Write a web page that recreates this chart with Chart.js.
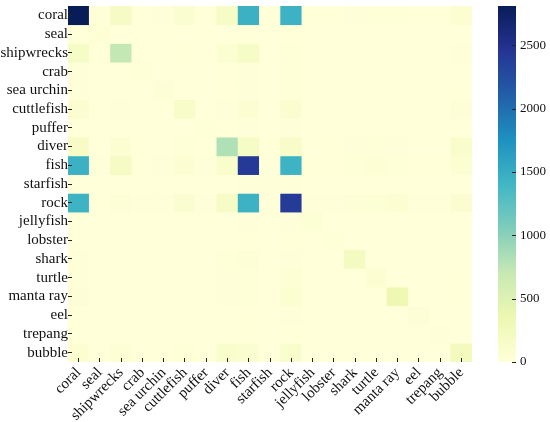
<!DOCTYPE html>
<html>
<head>
<meta charset="utf-8">
<script src="https://cdn.jsdelivr.net/npm/chart.js@4/dist/chart.umd.min.js"></script>
<style>
  body { margin: 0; background: #fff; }
</style>
</head>
<body>
<canvas id="heatmap" width="550" height="422"></canvas>
<script>
var labels = ["coral", "seal", "shipwrecks", "crab", "sea urchin", "cuttlefish", "puffer", "diver", "fish",
  "starfish", "rock", "jellyfish", "lobster", "shark", "turtle", "manta ray", "eel", "trepang", "bubble"];

// one row per true class, columns in the same order as labels
var coral      = [2810, 10, 180, 5, 10, 90, 5, 160, 1450, 5, 1440, 5, 5, 10, 20, 20, 5, 5, 60];
var seal       = [5, 40, 0, 0, 0, 0, 0, 0, 5, 0, 5, 0, 0, 0, 0, 0, 0, 0, 0];
var shipwrecks = [170, 5, 720, 0, 0, 5, 0, 70, 170, 0, 20, 0, 0, 0, 0, 0, 0, 0, 10];
var crab       = [10, 0, 0, 20, 0, 0, 0, 5, 10, 0, 20, 0, 0, 0, 0, 0, 0, 0, 0];
var seaUrchin  = [10, 0, 0, 0, 30, 0, 0, 5, 10, 0, 20, 0, 0, 0, 0, 0, 0, 0, 5];
var cuttlefish = [80, 0, 10, 0, 0, 140, 0, 10, 60, 0, 80, 0, 0, 0, 0, 0, 0, 0, 30];
var puffer     = [5, 0, 0, 0, 0, 0, 15, 5, 10, 0, 10, 0, 0, 0, 0, 0, 0, 0, 0];
var diver      = [160, 0, 60, 5, 0, 20, 5, 820, 170, 5, 150, 0, 5, 10, 20, 10, 0, 0, 110];
var fish       = [1450, 10, 180, 5, 10, 60, 10, 120, 2420, 10, 1430, 5, 5, 20, 40, 20, 5, 5, 70];
var starfish   = [5, 0, 0, 0, 0, 0, 0, 0, 10, 10, 10, 0, 0, 0, 0, 0, 0, 0, 0];
var rock       = [1430, 5, 30, 10, 10, 90, 10, 160, 1440, 10, 2400, 10, 10, 30, 50, 60, 10, 10, 80];
var jellyfish  = [5, 0, 0, 0, 0, 0, 0, 0, 10, 0, 10, 50, 0, 0, 0, 0, 0, 0, 0];
var lobster    = [5, 0, 0, 0, 0, 0, 0, 0, 5, 0, 5, 0, 20, 0, 0, 0, 0, 0, 0];
var shark      = [10, 0, 0, 0, 0, 0, 0, 20, 30, 0, 10, 0, 0, 220, 0, 0, 0, 0, 0];
var turtle     = [20, 0, 0, 0, 0, 0, 0, 10, 20, 0, 40, 0, 0, 0, 60, 0, 0, 0, 5];
var mantaRay   = [30, 0, 0, 0, 0, 0, 0, 10, 20, 0, 70, 0, 0, 0, 0, 340, 0, 0, 5];
var eel        = [5, 0, 0, 0, 0, 0, 0, 0, 5, 0, 10, 0, 0, 0, 0, 0, 30, 0, 0];
var trepang    = [5, 0, 0, 0, 0, 0, 0, 0, 5, 0, 5, 0, 0, 0, 0, 0, 0, 10, 0];
var bubble     = [60, 0, 40, 0, 0, 20, 0, 120, 90, 0, 110, 0, 0, 0, 0, 0, 0, 0, 240];

var matrix = [coral, seal, shipwrecks, crab, seaUrchin, cuttlefish, puffer, diver, fish, starfish,
  rock, jellyfish, lobster, shark, turtle, mantaRay, eel, trepang, bubble];

var colorbarTicks = [0, 500, 1000, 1500, 2000, 2500];

// YlGnBu
var ylgnbu = ["#ffffd9", "#edf8b1", "#c7e9b4", "#7fcdbb", "#41b6c4", "#1d91c0", "#225ea8", "#253494", "#081d58"];
var vmax = Math.max.apply(null, matrix.map(function(r) { return Math.max.apply(null, r); }));

function hexRgb(h) {
  return [parseInt(h.substr(1, 2), 16), parseInt(h.substr(3, 2), 16), parseInt(h.substr(5, 2), 16)];
}
function colorFor(v) {
  var t = Math.max(0, Math.min(1, v / vmax)) * (ylgnbu.length - 1);
  var i = Math.min(Math.floor(t), ylgnbu.length - 2);
  var f = t - i;
  var a = hexRgb(ylgnbu[i]), b = hexRgb(ylgnbu[i + 1]);
  return "rgb(" + [0, 1, 2].map(function(k) { return Math.round(a[k] + (b[k] - a[k]) * f); }).join(",") + ")";
}

var datasets = matrix.map(function(row, r) {
  return {
    label: labels[r],
    data: row.map(function() { return [r - 0.5, r + 0.5]; }),
    backgroundColor: row.map(colorFor),
    borderWidth: 0,
    grouped: false,
    barPercentage: 1,
    categoryPercentage: 1
  };
});

var colorbar = {
  id: "colorbar",
  afterDraw: function(chart) {
    var ctx = chart.ctx;
    var cb = chart.scales.cb;
    var x0 = 498, x1 = 516;
    var top = cb.getPixelForValue(cb.max), bottom = cb.getPixelForValue(0);
    var grad = ctx.createLinearGradient(0, bottom, 0, top);
    ylgnbu.forEach(function(c, i) { grad.addColorStop(i / (ylgnbu.length - 1), c); });
    ctx.save();
    ctx.fillStyle = grad;
    ctx.fillRect(x0, top, x1 - x0, bottom - top);
    ctx.strokeStyle = "#222";
    ctx.lineWidth = 1;
    cb.ticks.forEach(function(t) {
      var y = Math.round(cb.getPixelForValue(t.value)) + 0.5;
      ctx.beginPath();
      ctx.moveTo(x1 - 4, y);
      ctx.lineTo(x1, y);
      ctx.stroke();
    });
    ctx.restore();
  }
};

Chart.defaults.font.family = "'Liberation Serif', 'Times New Roman', serif";
Chart.defaults.font.size = 15;
Chart.defaults.color = "#111";

new Chart(document.getElementById("heatmap"), {
  type: "bar",
  data: { labels: labels, datasets: datasets },
  plugins: [colorbar],
  options: {
    responsive: false,
    animation: false,
    devicePixelRatio: 1,
    layout: { padding: { top: 6, left: 0, right: 0, bottom: 0 } },
    plugins: { legend: { display: false }, tooltip: { enabled: false } },
    scales: {
      x: {
        type: "category",
        offset: true,
        border: { display: false },
        grid: { z: 1, offset: false, drawOnChartArea: false, drawTicks: true, tickLength: -4, color: "#222" },
        ticks: { z: 1, autoSkip: false, maxRotation: 45, minRotation: 45, padding: 6 },
        afterFit: function(s) { s.height = 60; }
      },
      y: {
        type: "linear",
        min: -0.5,
        max: 18.5,
        reverse: true,
        border: { display: false },
        grid: { z: 1, drawOnChartArea: false, drawTicks: true, tickLength: -4, color: "#222" },
        afterBuildTicks: function(s) {
          s.ticks = labels.map(function(l, i) { return { value: i }; });
        },
        ticks: {
          z: 1,
          padding: 4,
          autoSkip: false,
          font: { lineHeight: 0.2 },
          callback: function(v) { return labels[v]; }
        },
        afterFit: function(s) { s.width = 68; }
      },
      cb: {
        type: "linear",
        position: "right",
        min: 0,
        max: vmax,
        border: { display: false },
        grid: { drawOnChartArea: false, drawTicks: true, tickLength: 48, color: "rgba(0,0,0,0)" },
        afterBuildTicks: function(s) {
          s.ticks = colorbarTicks.map(function(v) { return { value: v }; });
        },
        ticks: {
          padding: 0,
          font: { size: 13, lineHeight: 0.8 },
          callback: function(v) { return String(v); }
        },
        afterFit: function(s) { s.width = 78; }
      }
    }
  }
});
</script>
</body>
</html>
